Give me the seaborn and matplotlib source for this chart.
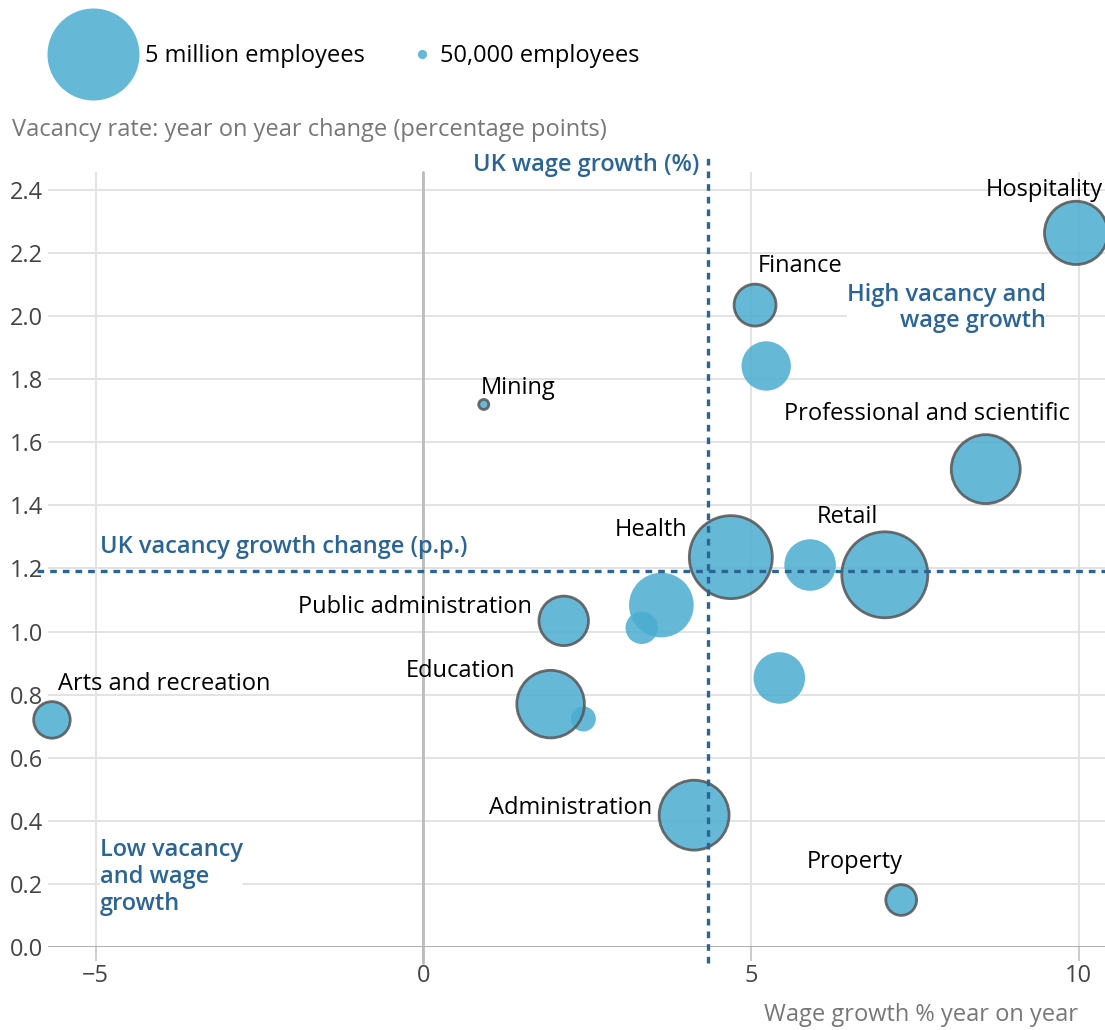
import matplotlib
matplotlib.use("Agg")
import matplotlib.pyplot as plt
import seaborn as sns
import pandas as pd
from matplotlib.lines import Line2D

# sector data
sectors = ["Hospitality", "Finance", "Sector A", "Mining", "Professional and scientific",
           "Health", "Sector C", "Retail", "Sector B", "Public administration", "Sector E",
           "Education", "Sector F", "Sector D", "Arts and recreation", "Administration", "Property"]
wage_growth = [9.96, 5.06, 5.23, 0.92, 8.58, 4.69, 5.90, 7.04, 3.63, 2.14, 3.33,
               1.94, 2.44, 5.43, -5.67, 4.13, 7.29]
vacancy_change = [2.264, 2.035, 1.842, 1.72, 1.515, 1.236, 1.211, 1.18, 1.084, 1.034, 1.012,
                  0.77, 0.723, 0.853, 0.72, 0.418, 0.149]
employees_k = [2370, 1040, 1440, 60, 2810, 4070, 1570, 4370, 2470, 1450, 620,
               2700, 370, 1570, 790, 2890, 560]
labelled = [True, True, False, True, True, True, False, True, False, True, False,
            True, False, False, True, True, True]

uk_wage_growth = 4.34
uk_vacancy_change = 1.192

legend_employees_k = [5000, 50]
legend_labels = ["5 million employees", "50,000 employees"]

x_ticks = [-5, 0, 5, 10]
y_ticks = [0.0, 0.2, 0.4, 0.6, 0.8, 1.0, 1.2, 1.4, 1.6, 1.8, 2.0, 2.2, 2.4]

# label placement: (dx, dy) in pixels from bubble centre, horizontal alignment
label_pos = {
    "Hospitality": (27, 43, "right"),
    "Finance": (3, 39, "left"),
    "Mining": (-3, 16, "left"),
    "Professional and scientific": (84, 55, "right"),
    "Health": (-43, 27, "right"),
    "Retail": (-68, 58, "left"),
    "Public administration": (-32, 14, "right"),
    "Education": (-35, 33, "right"),
    "Arts and recreation": (6, 36, "left"),
    "Administration": (-42, 7, "right"),
    "Property": (-94, 38, "left"),
}

BUBBLE = "#4aadd0"
BLUE = "#2b6596"
S_5M = 4388  # marker area (pt^2) for 5 million employees
FS = 17

sns.set_theme(style="whitegrid")
plt.rcParams["font.family"] = ["Open Sans", "DejaVu Sans"]

df = pd.DataFrame({"sector": sectors, "wage": wage_growth, "vacancy": vacancy_change,
                   "employees": employees_k, "labelled": labelled})

fig = plt.figure(figsize=(11.05, 10.3), dpi=100)
ax = fig.add_axes([48 / 1105, 83 / 1030, 1057 / 1105, 775 / 1030])

common = dict(x="wage", y="vacancy", size="employees", sizes=(0, S_5M), size_norm=(0, 5000),
              color=BUBBLE, alpha=0.85, legend=False, ax=ax, clip_on=False)
sns.scatterplot(data=df[~df["labelled"]], linewidth=0, zorder=3, **common)
sns.scatterplot(data=df[df["labelled"]], edgecolor="#555555", linewidth=2, zorder=4, **common)

for _, row in df[df["labelled"]].iterrows():
    dx, dy, ha = label_pos[row["sector"]]
    ax.annotate(row["sector"], (row["wage"], row["vacancy"]), xytext=(dx, dy),
                textcoords="offset pixels", ha=ha, va="center", fontsize=FS,
                color="black", zorder=6)

ax.set_xlim(-5.73, 10.40)
ax.set_ylim(0, 2.457)
ax.set_xticks(x_ticks)
ax.set_yticks(y_ticks)
ax.set_yticklabels([f"{v:.1f}" for v in y_ticks])
ax.set_xlabel("")
ax.set_ylabel("")
ax.grid(True, color="#e3e3e3", linewidth=1.4)
for s in ax.spines.values():
    s.set_visible(False)
ax.tick_params(axis="both", labelsize=FS, labelcolor="#444444", color="#cccccc", width=1.4)
ax.tick_params(axis="y", length=0, pad=3.5)
ax.tick_params(axis="x", length=10, pad=2, bottom=True)

ax.axvline(0, color="#bbbbbb", linewidth=2, ymin=-0.02, ymax=1, clip_on=False, zorder=2)
ax.axhline(0, color="#aaaaaa", linewidth=2, zorder=2)

ax.axvline(uk_wage_growth, color=BLUE, linewidth=2.4, linestyle=(0, (2, 1.8)),
           ymin=-0.02, ymax=1.018, clip_on=False, zorder=5)
ax.axhline(uk_vacancy_change, color=BLUE, linewidth=2.4, linestyle=(0, (2, 1.8)),
           xmin=-0.01, xmax=1, clip_on=False, zorder=5)

ax.annotate("UK wage growth (%)", (uk_wage_growth, 1), xycoords=("data", "axes fraction"),
            xytext=(-9, 7), textcoords="offset pixels", ha="right", va="center",
            fontsize=FS, fontweight="semibold", color=BLUE)
ax.annotate("UK vacancy growth change (p.p.)", (0, uk_vacancy_change),
            xycoords=("axes fraction", "data"), xytext=(52, 24), textcoords="offset pixels",
            ha="left", va="center", fontsize=FS, fontweight="semibold", color=BLUE)

ax.text(9.50, 2.026, "High vacancy and\nwage growth", ha="right", va="center",
        fontsize=FS, fontweight="semibold", color=BLUE, zorder=2, linespacing=1.15,
        bbox=dict(facecolor="white", edgecolor="none", pad=0))
ax.text(-4.94, 0.222, "Low vacancy\nand wage\ngrowth", ha="left", va="center",
        fontsize=FS, fontweight="semibold", color=BLUE, zorder=2, linespacing=1.15,
        bbox=dict(facecolor="white", edgecolor="none", pad=0))

fig.text(12 / 1105, 1 - 130 / 1030, "Vacancy rate: year on year change (percentage points)",
         ha="left", va="center", fontsize=FS, color="#777777")
fig.text(1078 / 1105, 1 - 1015 / 1030, "Wage growth % year on year",
         ha="right", va="center", fontsize=FS, color="#777777")

# size legend, one entry per legend call so each key sits where it should
legend_setup = [(3.8, 47.7), (0.95, 410.7)]
for emp, lab, (hl, x0) in zip(legend_employees_k, legend_labels, legend_setup):
    d = (S_5M * emp / 5000) ** 0.5
    h = Line2D([0], [0], marker="o", ls="none", markersize=d, markerfacecolor=BUBBLE,
               alpha=0.85, markeredgewidth=0)
    fig.legend([h], [lab], loc="center left", bbox_to_anchor=(x0 / 1105, 1 - 56 / 1030),
               frameon=False, handlelength=hl, handletextpad=0.3, borderpad=0,
               borderaxespad=0, fontsize=FS, labelcolor="black")

fig.savefig("out.png", dpi=100)
